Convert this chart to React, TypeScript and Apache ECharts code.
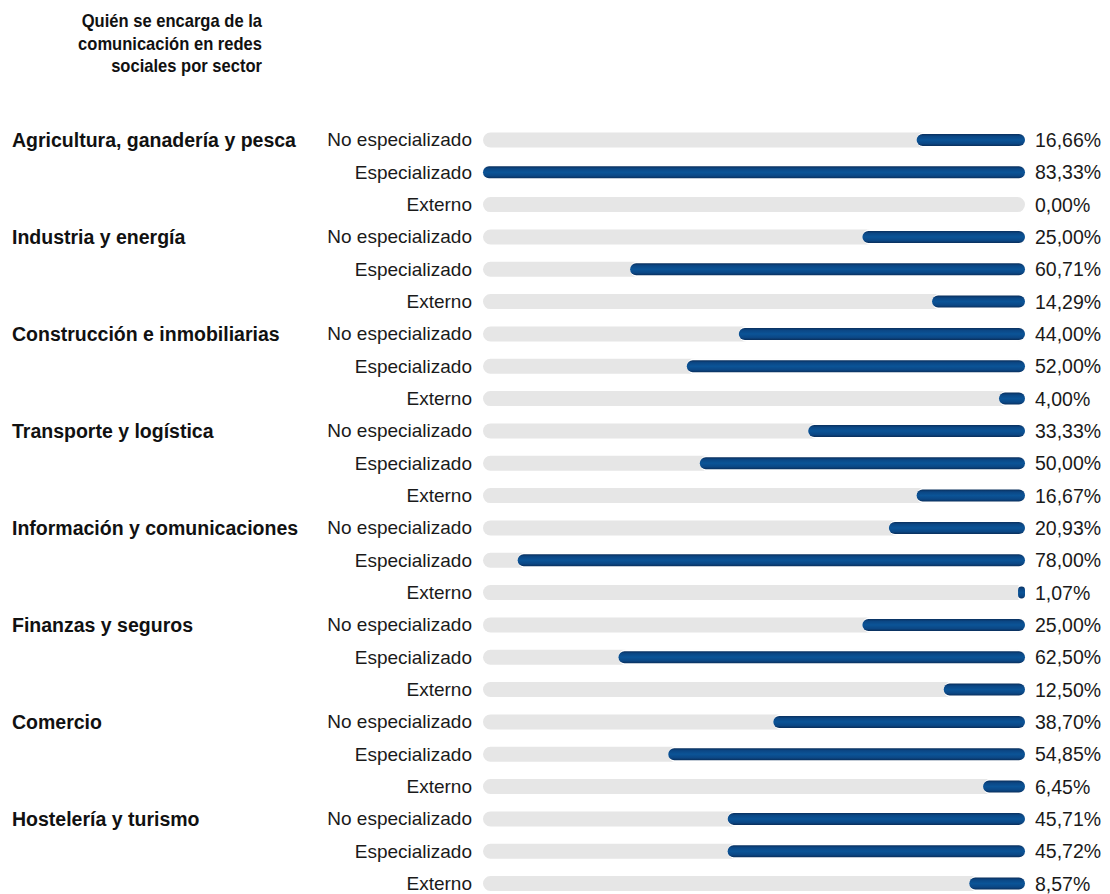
import React, { useEffect, useRef } from "react";
import * as echarts from "echarts";

const sectors = [
  "Agricultura, ganadería y pesca",
  "Industria y energía",
  "Construcción e inmobiliarias",
  "Transporte y logística",
  "Información y comunicaciones",
  "Finanzas y seguros",
  "Comercio",
  "Hostelería y turismo",
];
const roles = ["No especializado", "Especializado", "Externo"];
const values = [
  16.66, 83.33, 0.0,
  25.0, 60.71, 14.29,
  44.0, 52.0, 4.0,
  33.33, 50.0, 16.67,
  20.93, 78.0, 1.07,
  25.0, 62.5, 12.5,
  38.7, 54.85, 6.45,
  45.71, 45.72, 8.57,
];
const titleLines = ["Quién se encarga de la", "comunicación en redes", "sociales por sector"];

const FONT = "'Liberation Sans', Arial, sans-serif";

export default function App() {
  const ref = useRef<HTMLDivElement>(null);
  useEffect(() => {
    if (!ref.current) return;
    const chart = echarts.init(ref.current, undefined, { renderer: "svg" });
    const cats = values.map((_, i) => `${sectors[Math.floor(i / 3)]}|${roles[i % 3]}`);
    const axisMax = Math.max(...values);
    const track = values.map(() => axisMax);
    const fmt = (v: number) => v.toFixed(2).replace(".", ",") + "%";
    const hiddenY = () => ({
      type: "category" as const,
      data: cats,
      inverse: true,
      show: false,
    });
    chart.setOption({
      animation: false,
      backgroundColor: "#ffffff",
      graphic: [
        {
          type: "text",
          x: 262,
          y: 10,
          scaleX: 0.92,
          style: {
            text: titleLines.join("\n"),
            textAlign: "right",
            fontFamily: FONT,
            fontWeight: "bold",
            fontSize: 18,
            lineHeight: 22.5,
            fill: "#111111",
          },
        },
      ],
      grid: { left: 483, right: 85, top: 123.8, height: 775.9, containLabel: false },
      xAxis: {
        type: "value",
        min: 0,
        max: axisMax,
        inverse: true,
        show: false,
      },
      yAxis: [
        {
          type: "category",
          data: cats,
          inverse: true,
          axisLine: { show: false },
          axisTick: { show: false },
          axisLabel: {
            margin: 11,
            fontSize: 19,
            color: "#1a1a1a",
            fontFamily: FONT,
            formatter: (v: string) => v.split("|")[1],
          },
        },
        {
          type: "category",
          data: cats,
          inverse: true,
          position: "left",
          axisLine: { show: false },
          axisTick: { show: false },
          axisLabel: {
            margin: 471,
            align: "left",
            fontSize: 19.5,
            fontWeight: "bold",
            color: "#111111",
            fontFamily: FONT,
            formatter: (v: string, i: number) => (i % 3 === 0 ? v.split("|")[0] : ""),
          },
        },
        hiddenY(),
        hiddenY(),
      ],
      series: [
        {
          type: "bar",
          yAxisIndex: 0,
          data: track,
          barWidth: 15,
          itemStyle: { color: "#e6e6e6", borderRadius: 7.5 },
          label: {
            show: true,
            position: "right",
            distance: 10,
            fontSize: 19.5,
            color: "#1a1a1a",
            fontFamily: FONT,
            formatter: (p: any) => fmt(values[p.dataIndex]),
          },
          silent: true,
        },
        {
          type: "bar",
          yAxisIndex: 2,
          data: values,
          barWidth: 16,
          itemStyle: { color: "#ffffff", borderRadius: 8 },
          silent: true,
        },
        {
          type: "bar",
          yAxisIndex: 3,
          data: values,
          barWidth: 12,
          itemStyle: {
            borderRadius: 6,
            color: new echarts.graphic.LinearGradient(0, 0, 0, 1, [
              { offset: 0, color: "#0a2f5c" },
              { offset: 0.2, color: "#0b4785" },
              { offset: 0.5, color: "#0b5497" },
              { offset: 0.8, color: "#0b4785" },
              { offset: 1, color: "#0a2f5c" },
            ]),
          },
          silent: true,
        },
      ],
    });
    return () => chart.dispose();
  }, []);
  return (
    <div
      ref={ref}
      style={{ position: "fixed", left: 0, top: 0, width: 1110, height: 910 }}
    />
  );
}
